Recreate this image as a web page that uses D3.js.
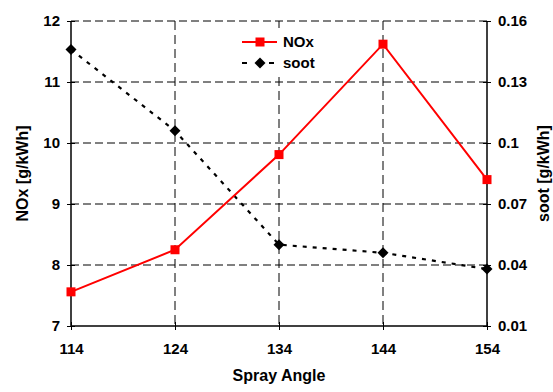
<!DOCTYPE html>
<html>
<head>
<meta charset="utf-8">
<script src="https://cdn.jsdelivr.net/npm/d3@7"></script>
<style>
  body { margin: 0; background: #fff; }
  text { font-family: "Liberation Sans", Arial, sans-serif; font-weight: bold; fill: #000; }
</style>
</head>
<body>
<div id="chart"></div>
<script>
// data
var angles = [114, 124, 134, 144, 154];
var noxValues = [7.56, 8.25, 9.81, 11.62, 9.4];
var sootValues = [0.146, 0.106, 0.050, 0.046, 0.038];
var leftTicks = [7, 8, 9, 10, 11, 12];
var rightTicks = [0.01, 0.04, 0.07, 0.1, 0.13, 0.16];

var width = 553, height = 392;
var margin = {top: 21, right: 66, bottom: 66, left: 71};
var w = width - margin.left - margin.right,
    h = height - margin.top - margin.bottom;

var svg = d3.select("#chart").append("svg")
    .attr("width", width)
    .attr("height", height);

var g = svg.append("g")
    .attr("transform", "translate(" + margin.left + "," + margin.top + ")");

var x = d3.scaleLinear().domain([114, 154]).range([0, w]);
var yL = d3.scaleLinear().domain([7, 12]).range([h, 0]);
var yR = d3.scaleLinear().domain([0.01, 0.16]).range([h, 0]);

// dashed grid
g.selectAll(".hgrid")
    .data(leftTicks.slice(1))
    .enter().append("line")
    .attr("x1", 0).attr("x2", w)
    .attr("y1", function(d){ return yL(d); })
    .attr("y2", function(d){ return yL(d); })
    .style("stroke", "#000")
    .style("stroke-width", 1)
    .style("stroke-dasharray", "8,4");

g.selectAll(".vgrid")
    .data(angles.slice(1, 4))
    .enter().append("line")
    .attr("y1", 0).attr("y2", h)
    .attr("x1", function(d){ return x(d); })
    .attr("x2", function(d){ return x(d); })
    .style("stroke", "#000")
    .style("stroke-width", 1)
    .style("stroke-dasharray", "9,5");

// axes
var axL = g.append("g")
    .call(d3.axisLeft(yL).tickValues(leftTicks).tickSize(4).tickPadding(7)
        .tickFormat(d3.format("d")));
var axR = g.append("g")
    .attr("transform", "translate(" + w + ",0)")
    .call(d3.axisRight(yR).tickValues(rightTicks).tickSize(4).tickPadding(7)
        .tickFormat(function(d){ return String(+d.toFixed(2)); }));
var axB = g.append("g")
    .attr("transform", "translate(0," + h + ")")
    .call(d3.axisBottom(x).tickValues(angles).tickSize(4).tickPadding(13));

[axL, axR, axB].forEach(function(a){
  a.select(".domain").remove();
  a.selectAll("text").style("font-size", "15px");
  a.selectAll(".tick line").style("stroke", "#000");
});
// ticks crossing the axis lines
axL.selectAll(".tick line").attr("x1", 4);
axR.selectAll(".tick line").attr("x1", -4);
axB.selectAll(".tick line").attr("y1", -4);

g.append("line").attr("x1", 0).attr("x2", 0).attr("y1", 0).attr("y2", h)
    .style("stroke", "#000").style("stroke-width", 1.5);
g.append("line").attr("x1", w).attr("x2", w).attr("y1", 0).attr("y2", h)
    .style("stroke", "#000").style("stroke-width", 1.5);
g.append("line").attr("x1", 0).attr("x2", w).attr("y1", h).attr("y2", h)
    .style("stroke", "#000").style("stroke-width", 1.5);

// soot series
var sootLine = d3.line()
    .x(function(d, i){ return x(angles[i]); })
    .y(function(d){ return yR(d); });
g.append("path")
    .attr("d", sootLine(sootValues))
    .style("fill", "none")
    .style("stroke", "#000")
    .style("stroke-width", 2.2)
    .style("stroke-dasharray", "4,6");
g.selectAll(".soot")
    .data(sootValues)
    .enter().append("path")
    .attr("transform", function(d, i){ return "translate(" + x(angles[i]) + "," + yR(d) + ")"; })
    .attr("d", "M0,-5.5L5.5,0L0,5.5L-5.5,0Z")
    .style("fill", "#000");

// NOx series
var noxLine = d3.line()
    .x(function(d, i){ return x(angles[i]); })
    .y(function(d){ return yL(d); });
g.append("path")
    .attr("d", noxLine(noxValues))
    .style("fill", "none")
    .style("stroke", "#ff0000")
    .style("stroke-width", 2);
g.selectAll(".nox")
    .data(noxValues)
    .enter().append("rect")
    .attr("x", function(d, i){ return x(angles[i]) - 4.5; })
    .attr("y", function(d){ return yL(d) - 4.5; })
    .attr("width", 9).attr("height", 9)
    .style("fill", "#ff0000");

// legend
var lg = svg.append("g").attr("transform", "translate(236,28)");
lg.append("rect").attr("width", 88).attr("height", 46).style("fill", "#fff");
lg.append("line").attr("x1", 6).attr("x2", 41).attr("y1", 14).attr("y2", 14)
    .style("stroke", "#ff0000").style("stroke-width", 2);
lg.append("rect").attr("x", 19.5).attr("y", 9.5).attr("width", 9).attr("height", 9)
    .style("fill", "#ff0000");
lg.append("text").attr("x", 47).attr("y", 19).style("font-size", "15px").text("NOx");
lg.append("line").attr("x1", 6).attr("x2", 41).attr("y1", 35).attr("y2", 35)
    .style("stroke", "#000").style("stroke-width", 2.2).style("stroke-dasharray", "5,22,5");
lg.append("path").attr("transform", "translate(24,35)")
    .attr("d", "M0,-5.5L5.5,0L0,5.5L-5.5,0Z").style("fill", "#000");
lg.append("text").attr("x", 47).attr("y", 40).style("font-size", "15px").text("soot");

// axis titles
svg.append("text")
    .attr("text-anchor", "middle")
    .attr("x", margin.left + w / 2)
    .attr("y", 381)
    .style("font-size", "16px")
    .text("Spray Angle");
svg.append("text")
    .attr("text-anchor", "middle")
    .attr("transform", "translate(28," + (margin.top + h / 2) + ") rotate(-90)")
    .style("font-size", "16px")
    .text("NOx [g/kWh]");
svg.append("text")
    .attr("text-anchor", "middle")
    .attr("transform", "translate(549," + (margin.top + h / 2) + ") rotate(-90)")
    .style("font-size", "16px")
    .text("soot [g/kWh]");
</script>
</body>
</html>
